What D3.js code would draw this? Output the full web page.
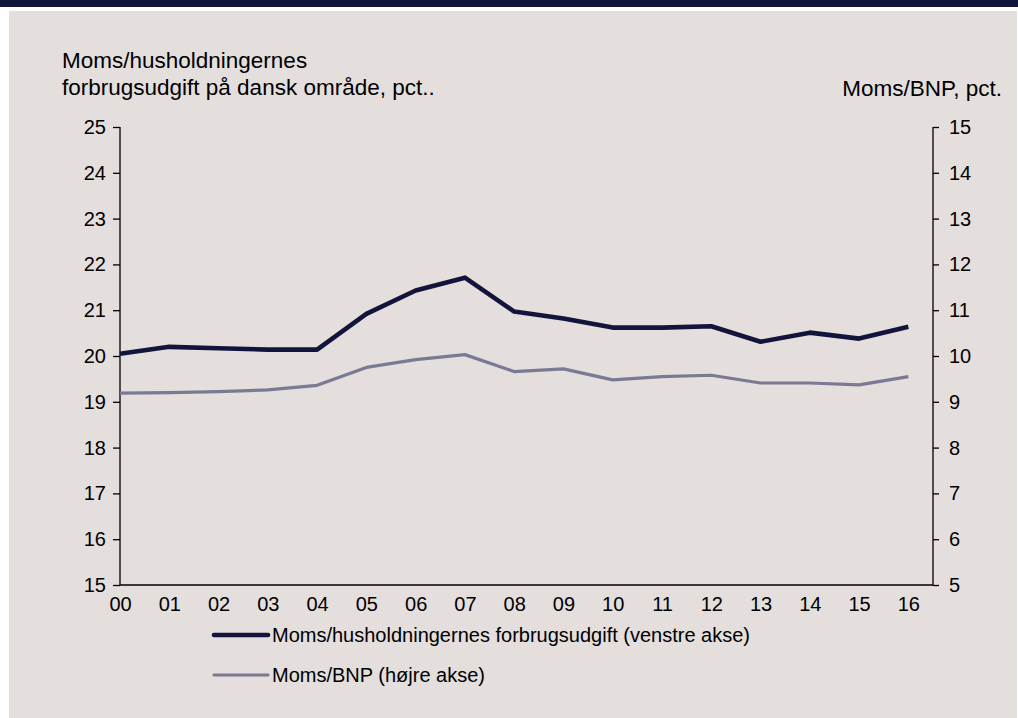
<!DOCTYPE html>
<html><head><meta charset="utf-8">
<script src="https://cdn.jsdelivr.net/npm/d3@7"></script>
<style>html,body{margin:0;padding:0;background:#fff;}svg{display:block;font-family:"Liberation Sans",Arial,sans-serif;}</style>
</head><body>
<svg id="c" width="1018" height="718"></svg>
<script>
const years = ["00","01","02","03","04","05","06","07","08","09","10","11","12","13","14","15","16"];
const momsForbrug = [20.05,20.2,20.17,20.14,20.14,20.92,21.43,21.71,20.97,20.82,20.62,20.62,20.65,20.31,20.51,20.38,20.64];
const momsBNP = [9.19,9.2,9.22,9.26,9.36,9.75,9.92,10.03,9.66,9.72,9.48,9.55,9.58,9.41,9.41,9.37,9.55];
const leftTicks = [15,16,17,18,19,20,21,22,23,24,25];
const rightTicks = [5,6,7,8,9,10,11,12,13,14,15];
const leftTitle = ["Moms/husholdningernes","forbrugsudgift på dansk område, pct.."];
const rightTitle = "Moms/BNP, pct.";
const legendLabels = ["Moms/husholdningernes forbrugsudgift (venstre akse)","Moms/BNP (højre akse)"];

const svg = d3.select("#c");
const dark = "#13143c", gray = "#7a7a94", bg = "#e4dedd";
svg.append("rect").attr("x",0).attr("y",0).attr("width",1018).attr("height",7).attr("fill","#13143a");
svg.append("rect").attr("x",9).attr("y",11).attr("width",1008).attr("height",707).attr("fill",bg);

const L = 120, R = 933, T = 127, B = 585;
const x = d3.scaleLinear().domain([0,16.5]).range([L,R]);
const yL = d3.scaleLinear().domain([15,25]).range([B,T]);
const yR = d3.scaleLinear().domain([5,15]).range([B,T]);

const fs = 20, tfs = 22.5;
const gl = svg.append("g").attr("transform",`translate(${L},0)`)
  .call(d3.axisLeft(yL).tickValues(leftTicks).tickSize(7).tickPadding(7).tickFormat(d3.format("d")));
const gr = svg.append("g").attr("transform",`translate(${R},0)`)
  .call(d3.axisRight(yR).tickValues(rightTicks).tickSize(6).tickPadding(10).tickFormat(d3.format("d")));
[gl,gr].forEach(g=>{
  g.select(".domain").remove();
  g.selectAll("line").attr("stroke","#000").attr("stroke-width",1.3);
  g.selectAll("text").attr("font-size",fs).attr("fill","#000").attr("font-family","Liberation Sans, Arial, sans-serif");
});
svg.append("line").attr("x1",L).attr("x2",L).attr("y1",T).attr("y2",B).attr("stroke","#000").attr("stroke-width",1.3);
svg.append("line").attr("x1",R).attr("x2",R).attr("y1",T).attr("y2",B).attr("stroke","#000").attr("stroke-width",1.3);

const gx = svg.append("g").attr("transform",`translate(0,${B})`)
  .call(d3.axisBottom(x).tickValues(d3.range(years.length)).tickSize(0).tickPadding(12).tickFormat(i=>years[i]));
gx.select(".domain").remove();
gx.selectAll("text").attr("font-size",fs).attr("fill","#000").attr("font-family","Liberation Sans, Arial, sans-serif");
svg.append("line").attr("x1",L).attr("x2",R).attr("y1",B).attr("y2",B).attr("stroke","#000").attr("stroke-width",1.3);

const lineL = d3.line().x((d,i)=>x(i)).y(d=>yL(d));
const lineR = d3.line().x((d,i)=>x(i)).y(d=>yR(d));
svg.append("path").datum(momsBNP).attr("d",lineR).attr("fill","none").attr("stroke",gray).attr("stroke-width",3.2).attr("stroke-linejoin","round");
svg.append("path").datum(momsForbrug).attr("d",lineL).attr("fill","none").attr("stroke",dark).attr("stroke-width",4.6).attr("stroke-linejoin","round");

const tl = svg.append("text").attr("font-size",tfs).attr("fill","#000");
leftTitle.forEach((t,i)=>tl.append("tspan").attr("x",62).attr("y",68+i*27).text(t));
svg.append("text").attr("x",1002).attr("y",96).attr("text-anchor","end").attr("font-size",tfs).attr("fill","#000").text(rightTitle);

const lg = [{c:dark,w:4.6,y:635},{c:gray,w:3.2,y:675}];
lg.forEach((l,i)=>{
  svg.append("line").attr("x1",214).attr("x2",268).attr("y1",l.y).attr("y2",l.y).attr("stroke",l.c).attr("stroke-width",l.w).attr("stroke-linecap","round");
  svg.append("text").attr("x",272).attr("y",l.y+7).attr("font-size",fs).attr("fill","#000").text(legendLabels[i]);
});
</script>
</body></html>
